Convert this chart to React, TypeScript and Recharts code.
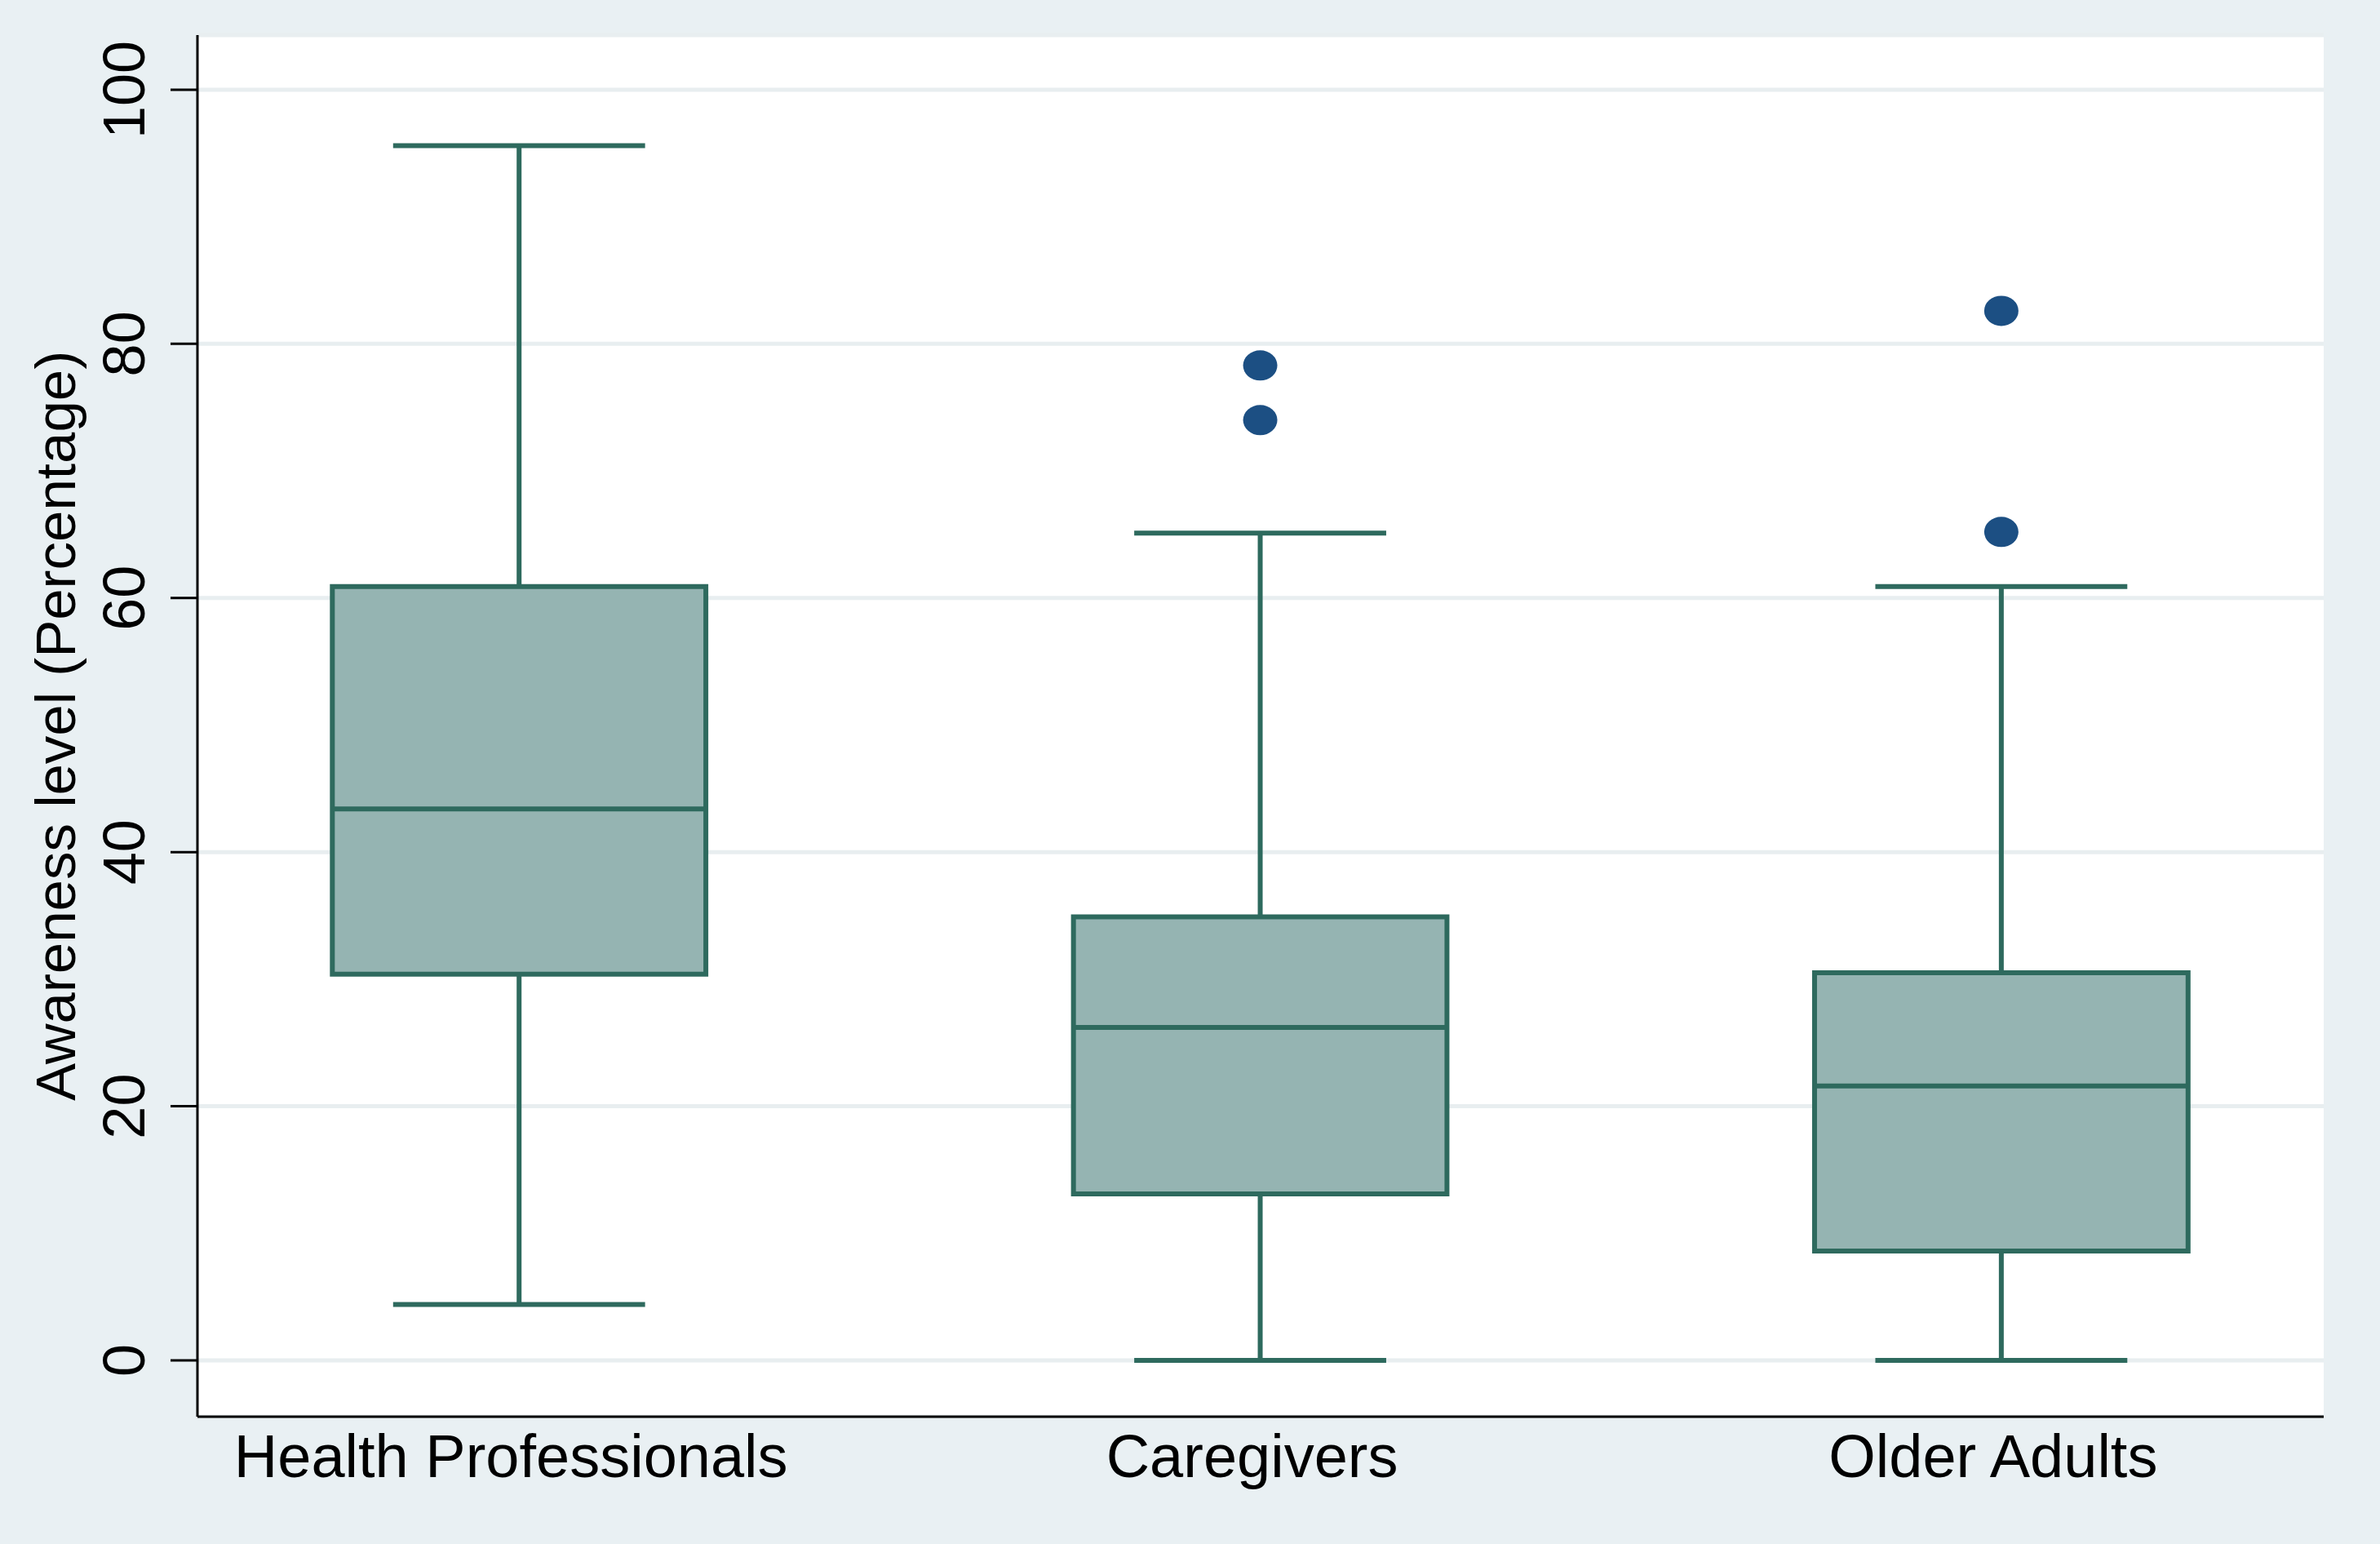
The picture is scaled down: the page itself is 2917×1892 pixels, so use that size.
import {
  CartesianGrid,
  ComposedChart,
  Label,
  ReferenceArea,
  ReferenceLine,
  Scatter,
  XAxis,
  YAxis,
} from "recharts";

// box plot summary
const groups = ["Health Professionals", "Caregivers", "Older Adults"];
const groupPos = [1, 2, 3];
const lowerWhisker = [4.4, 0, 0];
const q1 = [30.4, 13.1, 8.6];
const median = [43.4, 26.2, 21.6];
const q3 = [60.9, 34.9, 30.5];
const upperWhisker = [95.6, 65.1, 60.9];
const outlierGroup = [2, 2, 3, 3];
const outlierValue = [78.3, 74.0, 82.6, 65.2];
const yTicks = [0, 20, 40, 60, 80, 100];

const outliers = outlierGroup.map((g, i) => ({ x: g, y: outlierValue[i] }));

const FONT = "'Liberation Sans', Arial, sans-serif";
const LINE = "#2e6a5e";
const FILL = "#95b4b2";
const DOT = "#1c4f83";
const BOX_HALF = 0.252;
const CAP_HALF = 0.17;

const YTick = ({ x, y, payload }: any) => (
  <text
    x={x}
    y={y}
    transform={`rotate(-90, ${x}, ${y})`}
    textAnchor="middle"
    fontFamily={FONT}
    fontSize={72}
    fill="#000"
  >
    {payload.value}
  </text>
);

const XTick = ({ x, y, payload }: any) => (
  <text
    x={x - 10}
    y={y + 74}
    textAnchor="middle"
    fontFamily={FONT}
    fontSize={74}
    fill="#000"
  >
    {groups[groupPos.indexOf(payload.value)]}
  </text>
);

const YTitle = ({ viewBox }: any) => {
  const x = viewBox.x + 92;
  const y = viewBox.y + viewBox.height / 2;
  return (
    <text
      x={x}
      y={y}
      transform={`rotate(-90, ${x}, ${y})`}
      textAnchor="middle"
      fontFamily={FONT}
      fontSize={69}
      fill="#000"
    >
      Awareness level (Percentage)
    </text>
  );
};

export default function App() {
  const whiskers = groupPos.flatMap((p, i) => [
    <ReferenceLine
      key={`wu${i}`}
      segment={[{ x: p, y: q3[i] }, { x: p, y: upperWhisker[i] }]}
      stroke={LINE}
      strokeWidth={6}
    />,
    <ReferenceLine
      key={`wl${i}`}
      segment={[{ x: p, y: lowerWhisker[i] }, { x: p, y: q1[i] }]}
      stroke={LINE}
      strokeWidth={6}
    />,
    <ReferenceLine
      key={`cu${i}`}
      segment={[
        { x: p - CAP_HALF, y: upperWhisker[i] },
        { x: p + CAP_HALF, y: upperWhisker[i] },
      ]}
      stroke={LINE}
      strokeWidth={6}
    />,
    <ReferenceLine
      key={`cl${i}`}
      segment={[
        { x: p - CAP_HALF, y: lowerWhisker[i] },
        { x: p + CAP_HALF, y: lowerWhisker[i] },
      ]}
      stroke={LINE}
      strokeWidth={6}
    />,
  ]);

  const boxes = groupPos.map((p, i) => (
    <ReferenceArea
      key={`b${i}`}
      x1={p - BOX_HALF}
      x2={p + BOX_HALF}
      y1={q1[i]}
      y2={q3[i]}
      fill={FILL}
      fillOpacity={1}
      stroke={LINE}
      strokeWidth={6}
    />
  ));

  const medians = groupPos.map((p, i) => (
    <ReferenceLine
      key={`m${i}`}
      segment={[
        { x: p - BOX_HALF, y: median[i] },
        { x: p + BOX_HALF, y: median[i] },
      ]}
      stroke={LINE}
      strokeWidth={6}
    />
  ));

  return (
    <div
      style={{
        position: "absolute",
        left: 0,
        top: 0,
        width: 2917,
        height: 1892,
        background: "#e9f0f3",
      }}
    >
      <ComposedChart
        width={2917}
        height={1892}
        margin={{ top: 43, right: 69, bottom: 0, left: 0 }}
      >
        <CartesianGrid vertical={false} stroke="#e8eef0" strokeWidth={5} fill="#ffffff" />
        <XAxis
          dataKey="x"
          type="number"
          domain={[0.566, 3.435]}
          ticks={groupPos}
          allowDataOverflow
          height={156}
          tickLine={false}
          tickSize={0}
          tickMargin={0}
          axisLine={{ stroke: "#000", strokeWidth: 3 }}
          tick={<XTick />}
        />
        <YAxis
          dataKey="y"
          type="number"
          domain={[-4.43, 104.3]}
          ticks={yTicks}
          allowDataOverflow
          width={242}
          tickSize={33}
          tickMargin={32}
          axisLine={{ stroke: "#000", strokeWidth: 3 }}
          tickLine={{ stroke: "#000", strokeWidth: 3 }}
          tick={<YTick />}
        >
          <Label content={<YTitle />} />
        </YAxis>
        {whiskers}
        {boxes}
        {medians}
        <Scatter
          data={outliers}
          dataKey="y"
          isAnimationActive={false}
          shape={(p: any) => (
            <ellipse cx={p.cx} cy={p.cy} rx={21} ry={18.5} fill={DOT} />
          )}
        />
      </ComposedChart>
    </div>
  );
}
